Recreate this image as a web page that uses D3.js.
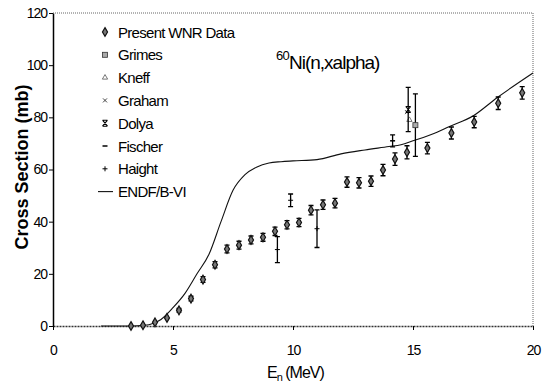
<!DOCTYPE html>
<html>
<head>
<meta charset="utf-8">
<script src="https://cdn.jsdelivr.net/npm/d3@7"></script>
<style>
  body { margin: 0; background: #fff; }
  svg { font-family: "Liberation Sans", Arial, sans-serif; }
</style>
</head>
<body>
<div id="chart"></div>
<script>
const width = 543;
const height = 383;

// Present WNR data
const wnrE = [3.25, 3.75, 4.25, 4.75, 5.25, 5.75, 6.25, 6.75, 7.25, 7.75, 8.25, 8.75, 9.25, 9.75, 10.25,
  10.75, 11.25, 11.75, 12.25, 12.75, 13.25, 13.75, 14.25, 14.75, 15.6, 16.6, 17.55, 18.55, 19.55];
const wnrXS = [0, 0.3, 1.4, 3.1, 6, 10.5, 17.8, 23.5, 29.5, 31, 33, 34, 36.3, 38.8, 39.7,
  44.4, 46.5, 47.1, 55.2, 54.9, 55.5, 59.8, 64, 66.6, 68.2, 74, 78.2, 85.4, 89.4];
const wnrErr = [0.3, 0.3, 0.4, 0.5, 0.7, 0.9, 1.1, 1.2, 1.5, 1.5, 1.5, 1.5, 1.6, 1.6, 1.6,
  1.8, 1.8, 1.8, 2, 2, 2, 2.2, 2.4, 2.5, 2.2, 2.3, 2.2, 2.4, 2.4];

// other measurements
const grimesE = [15.1];
const grimesXS = [77];
const grimesErr = [12];
const kneffE = [14.85];
const kneffXS = [79];
const kneffErr = [0];
const grahamE = [14.75];
const grahamXS = [82];
const grahamErr = [0];
const dolyaE = [14.8];
const dolyaXS = [83];
const dolyaErr = [8.5];
const fischerE = [14.15];
const fischerXS = [71];
const fischerErr = [2.3];
const haightE = [9.35, 9.9, 11.0];
const haightXS = [29.3, 48.2, 37.3];
const haightErr = [5, 2.4, 7.2];

// ENDF/B-VI evaluation
const endfE = [2, 3, 3.5, 4, 4.5, 5, 5.5, 6, 6.5, 7, 7.5, 8, 8.5, 9, 9.5, 10, 11, 12, 13, 14, 14.5, 15, 16, 16.5, 17.5, 18.5, 20];
const endfXS = [0, 0, 0.1, 0.5, 2.5, 7, 12.5, 20, 27.5, 40, 52, 58, 61, 62.5, 63, 63.3, 63.8, 66, 67.5, 68.8, 69.5, 71, 74.3, 76.4, 80.5, 87.5, 97];

const xTicks = [0, 5, 10, 15, 20];
const yTicks = [0, 20, 40, 60, 80, 100, 120];
const legendLabels = ["Present WNR Data", "Grimes", "Kneff", "Graham", "Dolya", "Fischer", "Haight", "ENDF/B-VI"];

const series = [
  { name: legendLabels[0], type: "diamond", E: wnrE, v: wnrXS, err: wnrErr },
  { name: legendLabels[1], type: "square", E: grimesE, v: grimesXS, err: grimesErr },
  { name: legendLabels[2], type: "triangle", E: kneffE, v: kneffXS, err: kneffErr },
  { name: legendLabels[3], type: "x", E: grahamE, v: grahamXS, err: grahamErr },
  { name: legendLabels[4], type: "xbar", E: dolyaE, v: dolyaXS, err: dolyaErr },
  { name: legendLabels[5], type: "dash", E: fischerE, v: fischerXS, err: fischerErr },
  { name: legendLabels[6], type: "plus", E: haightE, v: haightXS, err: haightErr }
];

const x = d3.scaleLinear().domain([0, 20]).range([53, 533]);
const y = d3.scaleLinear().domain([0, 120]).range([326, 13]);

const svg = d3.select("#chart").append("svg").attr("width", width).attr("height", height);

function drawMarker(g, type) {
  if (type === "diamond") {
    g.append("path").attr("d", d3.symbol(d3.symbolDiamond, 22)()).attr("fill", "#777").attr("stroke", "#111").attr("stroke-width", 1.2);
  } else if (type === "square") {
    g.append("rect").attr("x", -2.5).attr("y", -2.5).attr("width", 5).attr("height", 5)
      .attr("fill", "#aaa").attr("stroke", "#333").attr("stroke-width", 0.8);
  } else if (type === "triangle") {
    g.append("path").attr("d", d3.symbol(d3.symbolTriangle, 12)()).attr("fill", "none").attr("stroke", "#555").attr("stroke-width", 0.8);
  } else if (type === "x") {
    g.append("path").attr("d", "M-2,-2L2,2M2,-2L-2,2").attr("stroke", "#444").attr("stroke-width", 1);
  } else if (type === "xbar") {
    g.append("path").attr("d", "M-2.5,-3L2.5,3M2.5,-3L-2.5,3M-2.5,-3H2.5M-2.5,3H2.5").attr("stroke", "#000").attr("stroke-width", 1.1);
  } else if (type === "dash") {
    g.append("path").attr("d", "M-2.5,0H2.5").attr("stroke", "#000").attr("stroke-width", 1.5);
  } else if (type === "plus") {
    g.append("path").attr("d", "M-2.5,0H2.5M0,-2.5V2.5").attr("stroke", "#000").attr("stroke-width", 1);
  }
}

// plot frame (dotted top and right)
svg.append("path")
  .attr("d", `M${x(0)},${y(120)}H${x(20)}V${y(0)}`)
  .attr("fill", "none").attr("stroke", "#666").attr("stroke-width", 1).attr("stroke-dasharray", "1,1");

// axes
const xAxis = svg.append("g").attr("transform", `translate(0,${y(0)})`)
  .call(d3.axisBottom(x).tickValues(xTicks).tickSize(4).tickSizeOuter(0).tickPadding(15));
xAxis.select(".domain").attr("stroke", "#333").attr("stroke-width", 1.6).attr("stroke-dasharray", "2,1");

const yAxis = svg.append("g").attr("transform", `translate(${x(0)},0)`)
  .call(d3.axisLeft(y).tickValues(yTicks).tickSize(4).tickSizeOuter(0).tickPadding(2));
yAxis.select(".domain").attr("stroke", "#000").attr("stroke-width", 1.5);

svg.selectAll(".tick text").attr("font-size", 14).attr("letter-spacing", "-1px").attr("fill", "#000")
  .attr("font-family", "'Liberation Sans', Arial, sans-serif");

// ENDF curve
const line = d3.line().x((d) => x(d[0])).y((d) => y(d[1])).curve(d3.curveMonotoneX);
svg.append("path")
  .datum(endfE.map((e, i) => [e, endfXS[i]]))
  .attr("d", line)
  .attr("fill", "none").attr("stroke", "#111").attr("stroke-width", 1.1);

// error bars and markers
series.forEach((s) => {
  const pts = s.E.map((e, i) => ({ e, v: s.v[i], err: s.err[i] }));
  const g = svg.append("g");
  pts.filter((d) => d.err > 0.6).forEach((d) => {
    g.append("path")
      .attr("d", `M${x(d.e)},${y(d.v - d.err)}V${y(d.v + d.err)}M${x(d.e) - 2.5},${y(d.v - d.err)}h5M${x(d.e) - 2.5},${y(d.v + d.err)}h5`)
      .attr("fill", "none").attr("stroke", "#000").attr("stroke-width", 1.3);
  });
  pts.forEach((d) => {
    drawMarker(g.append("g").attr("transform", `translate(${x(d.e)},${y(d.v)})`), s.type);
  });
});

// legend
const legend = svg.append("g");
series.forEach((s, i) => {
  const ly = 32 + i * 22.8;
  drawMarker(legend.append("g").attr("transform", `translate(105,${ly})`), s.type);
  legend.append("text").attr("x", 118).attr("y", ly + 5.5).attr("font-size", 15).attr("letter-spacing", "-0.7px").text(s.name);
});
const lyLine = 32 + 7 * 22.8;
legend.append("line").attr("x1", 98).attr("x2", 113).attr("y1", lyLine).attr("y2", lyLine).attr("stroke", "#111").attr("stroke-width", 1.1);
legend.append("text").attr("x", 118).attr("y", lyLine + 5.5).attr("font-size", 15).attr("letter-spacing", "-0.7px").text(legendLabels[7]);

// title
svg.append("text").attr("x", 276).attr("y", 60).attr("font-size", 13).attr("letter-spacing", "-0.8px").text("60");
svg.append("text").attr("x", 289).attr("y", 69).attr("font-size", 19).attr("letter-spacing", "-1px").text("Ni(n,xalpha)");

// axis titles
const xLabel = svg.append("text").attr("x", 267).attr("y", 378).attr("font-size", 16).attr("letter-spacing", "-1px");
xLabel.append("tspan").text("E");
xLabel.append("tspan").attr("font-size", 11).attr("dy", 3).text("n");
xLabel.append("tspan").attr("dy", -3).text(" (MeV)");

svg.append("text")
  .attr("transform", "translate(28,167) rotate(-90)")
  .attr("text-anchor", "middle")
  .attr("font-size", 18).attr("font-weight", "bold")
  .text("Cross Section (mb)");
</script>
</body>
</html>
